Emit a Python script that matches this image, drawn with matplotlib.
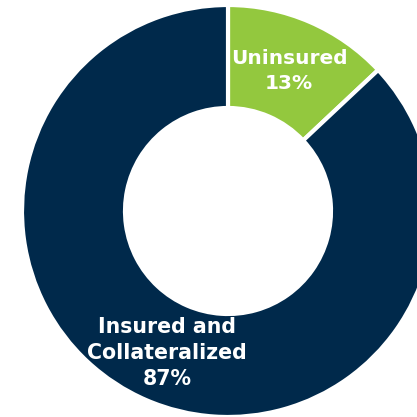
import matplotlib.pyplot as plt

# data
categories = ['Uninsured', 'Insured and\nCollateralized']
shares = [13, 87]
colors = ['#93c83e', '#00294b']

fig = plt.figure(figsize=(4.17, 4.17), dpi=100)
ax = fig.add_axes([0, 0, 1, 1])

# pie in pixel-like data units so the ring is cropped like the original
ax.pie(shares, colors=colors, startangle=90, counterclock=False,
       center=(228, 206), radius=206,
       wedgeprops=dict(width=103, edgecolor='white', linewidth=3))
ax.set_xlim(0, 417)
ax.set_ylim(0, 417)
ax.set_aspect('equal')
ax.axis('off')

ax.text(289, 346, f'{categories[0]}\n{shares[0]}%', color='white',
        fontsize=14.5, fontweight='bold', ha='center', va='center',
        linespacing=1.35)
ax.text(167, 64, f'{categories[1]}\n{shares[1]}%', color='white',
        fontsize=14.8, fontweight='bold', ha='center', va='center',
        linespacing=1.35)

fig.savefig('out.png', dpi=100)
